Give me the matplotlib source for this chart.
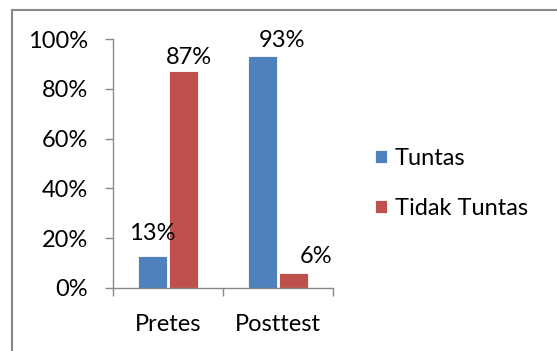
import matplotlib
matplotlib.use('Agg')
import matplotlib.pyplot as plt
import numpy as np
from matplotlib.lines import Line2D

categories = ['Pretes', 'Posttest']
tuntas = [0.13, 0.93]
tidak_tuntas = [0.87, 0.06]
series_names = ['Tuntas', 'Tidak Tuntas']
yticks = [0, 0.2, 0.4, 0.6, 0.8, 1.0]
ytick_labels = ['0%', '20%', '40%', '60%', '80%', '100%']

blue = '#4F81BD'
red = '#C0504D'
gray = '#898989'
fs = 17

plt.rcParams['font.family'] = ['Lato', 'DejaVu Sans']

fig = plt.figure(figsize=(5.57, 3.51), dpi=100)
ax = fig.add_axes([113 / 557, 63 / 351, 220 / 557, 249 / 351])

x = np.arange(len(categories))
w = 0.27
b1 = ax.bar(x - 0.14, tuntas, w, color=blue, edgecolor='white', linewidth=0.6, label=series_names[0])
b2 = ax.bar(x + 0.14, tidak_tuntas, w, color=red, edgecolor='white', linewidth=0.6, label=series_names[1])

# data labels (Excel put them a bit off-center), offsets in points
label_offsets = [[(0, 11), (4, 5)], [(14, 7), (16, 7)]]
for j, bars in enumerate([b1, b2]):
    for i, rect in enumerate(bars):
        dx, dy = label_offsets[i][j]
        ax.annotate('{:.0f}%'.format(rect.get_height() * 100),
                    (rect.get_x() + rect.get_width() / 2, rect.get_height()),
                    xytext=(dx, dy), textcoords='offset points',
                    ha='center', va='baseline', fontsize=fs)

ax.set_xlim(-0.5, 1.5)
ax.set_ylim(0, 1.0)
ax.set_yticks(yticks)
ax.set_yticklabels(ytick_labels, fontsize=fs)
ax.set_xticks([-0.5, 0.5, 1.5])
ax.set_xticklabels([])
ax.set_xticks(x, minor=True)
ax.set_xticklabels(categories, minor=True, fontsize=fs)
ax.tick_params(axis='x', which='minor', length=0, pad=19)
ax.tick_params(axis='x', which='major', length=6, color=gray, width=1)
ax.tick_params(axis='y', length=6, color=gray, width=1, pad=12)

for s in ['top', 'right']:
    ax.spines[s].set_visible(False)
for s in ['left', 'bottom']:
    ax.spines[s].set_color(gray)
    ax.spines[s].set_linewidth(1)

ax.legend(loc='upper left', bbox_to_anchor=(375 / 557, 1 - 148 / 351),
          bbox_transform=fig.transFigure, frameon=False, fontsize=fs,
          handlelength=0.5, handleheight=0.5, handletextpad=0.34,
          labelspacing=1.22, borderaxespad=0, borderpad=0)

# outer chart border (only top and left edges visible)
fig.add_artist(Line2D([11.5 / 557, 11.5 / 557], [0, 1 - 9.5 / 351], color=gray, lw=1.5, transform=fig.transFigure))
fig.add_artist(Line2D([11.5 / 557, 1], [1 - 9.5 / 351, 1 - 9.5 / 351], color=gray, lw=1.5, transform=fig.transFigure))

fig.savefig('out.png', dpi=100)
